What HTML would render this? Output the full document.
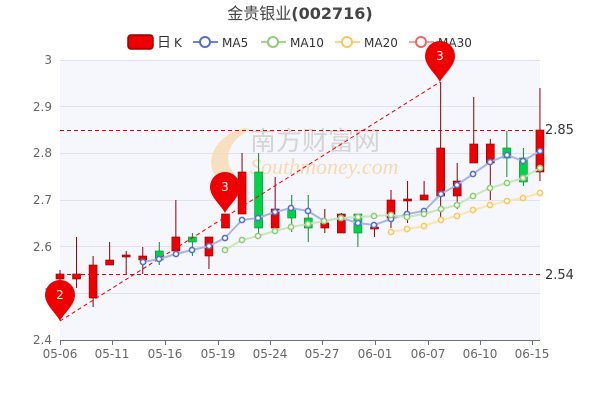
<!DOCTYPE html>
<html><head><meta charset="utf-8"><style>
body{margin:0;background:#fff;}
svg{display:block;font-family:"DejaVu Sans","Liberation Sans","Noto Sans CJK SC",sans-serif;}
</style></head><body>
<svg id="s" width="600" height="400" xmlns="http://www.w3.org/2000/svg">
<rect x="60" y="60" width="480" height="280" fill="#f5f7fd"/>
<g stroke="#dfe3ef" stroke-width="1">
<line x1="60" y1="60.5" x2="540" y2="60.5"/><line x1="60" y1="106.5" x2="540" y2="106.5"/>
<line x1="60" y1="153.5" x2="540" y2="153.5"/><line x1="60" y1="200.5" x2="540" y2="200.5"/>
<line x1="60" y1="246.5" x2="540" y2="246.5"/><line x1="60" y1="293.5" x2="540" y2="293.5"/>
</g>
<text x="300" y="19" font-size="16" fill="#444" text-anchor="middle"><tspan font-family="'Noto Sans CJK SC',sans-serif">金贵银业</tspan><tspan font-weight="bold">(002716)</tspan></text>
<g font-size="12" fill="#333">
<rect x="128" y="35" width="25" height="14" rx="3" fill="#e00" stroke="#900" stroke-width="1.5"/>
<text x="157" y="47" font-size="14" font-family="'Noto Sans CJK SC',sans-serif">日</text><text x="174" y="47">K</text>
<line x1="193" y1="42" x2="218" y2="42" stroke="#6a83d8" stroke-width="2"/><circle cx="205" cy="42" r="5" fill="#fff" stroke="#5470c6" stroke-width="2"/><text x="222" y="47">MA5</text>
<line x1="261" y1="42" x2="286" y2="42" stroke="#a5d68f" stroke-width="2"/><circle cx="273" cy="42" r="5" fill="#fff" stroke="#91cc75" stroke-width="2"/><text x="290" y="47">MA10</text>
<line x1="335" y1="42" x2="360" y2="42" stroke="#fcd58a" stroke-width="2"/><circle cx="347" cy="42" r="5" fill="#fff" stroke="#fac858" stroke-width="2"/><text x="364" y="47">MA20</text>
<line x1="409" y1="42" x2="434" y2="42" stroke="#f5a0a0" stroke-width="2"/><circle cx="421" cy="42" r="5" fill="#fff" stroke="#ee6666" stroke-width="2"/><text x="438" y="47">MA30</text>
</g>
<text x="250" y="150" font-size="26" fill="#ccc" opacity="0.8" font-family="'Noto Sans CJK SC',sans-serif">南方财富网</text>
<text x="250" y="174" font-size="22" fill="#f6d9b0" font-style="italic" font-family="'Liberation Serif',serif">Southmoney.com</text>
<path d="M245 128 C215 135 205 160 215 175 L235 175 C222 160 228 140 250 130Z" fill="#f6d9b0" opacity="0.8"/>
<g font-size="12" fill="#666" text-anchor="end">
<text x="52" y="64">3</text><text x="52" y="111">2.9</text><text x="52" y="157">2.8</text>
<text x="52" y="204">2.7</text><text x="52" y="251">2.6</text><text x="52" y="297">2</text><text x="52" y="344">2.4</text>
</g>
<line x1="60" y1="340.5" x2="540" y2="340.5" stroke="#6e7079"/>
<g id="xt" stroke="#6e7079"></g>
<g font-size="12" fill="#666" text-anchor="middle">
<text x="60" y="358">05-06</text><text x="112" y="358">05-11</text><text x="165" y="358">05-16</text>
<text x="218" y="358">05-19</text><text x="270" y="358">05-24</text><text x="322" y="358">05-27</text>
<text x="375" y="358">06-01</text><text x="428" y="358">06-07</text><text x="480" y="358">06-10</text><text x="532" y="358">06-15</text>
</g>
<g id="c"></g>
<g stroke="#e00" stroke-width="1" stroke-dasharray="4,3" fill="none">
<line x1="60" y1="130.5" x2="540" y2="130.5"/><line x1="60" y1="274.5" x2="540" y2="274.5"/>
<line x1="60" y1="321" x2="440" y2="82"/>
</g>
<g font-size="13" fill="#333"><text x="545" y="134">2.85</text><text x="545" y="279">2.54</text></g>
<g id="m"></g>
</svg>
<script>
var ns="http://www.w3.org/2000/svg",c=document.getElementById('c'),m=document.getElementById('m'),xt=document.getElementById('xt');
function el(p,t,a){var e=document.createElementNS(ns,t);for(var k in a)e.setAttribute(k,a[k]);p.appendChild(e);return e;}
[60,112,165,218,270,322,375,428,480,532].forEach(function(x){el(xt,'line',{x1:x+.5,y1:340,x2:x+.5,y2:345});});
var d=[['r',274,279,270,282],['r',274,279,237,288],['r',265,298,256,307],['r',260,265,242,265],['r',255,257,251,274],['r',256,260,247,274],['g',251,260,242,265],['r',237,251,200,251],['g',237,242,233,256],['r',237,256,237,269],['r',214,228,214,228],['r',172,214,153,214],['g',172,228,153,237],['r',209,228,177,228],['g',209,218,195,232],['g',218,228,195,242],['r',223,228,209,233],['r',214,233,213,233],['g',214,233,214,247],['r',227,229,227,237],['r',200,218,190,228],['r',199,201,181,223],['r',195,200,181,200],['r',148,196,82,219],['r',181,196,163,209],['r',144,163,97,163],['r',144,163,139,200],['g',148,158,131,177],['g',158,182,148,186],['r',130,172,88,181]];
d.forEach(function(v,i){var x=60+i*16.55,col=v[0]=='r'?'#e00':'#00d34a',sc=v[0]=='r'?'#8a0000':'#0a8a2a';
el(c,'line',{x1:x,y1:v[3],x2:x,y2:v[4],stroke:sc,'stroke-width':1});
el(c,'rect',{x:x-4,y:v[1],width:8,height:Math.max(1.5,v[2]-v[1]),fill:col,stroke:sc,'stroke-width':0.6});});
function ma(pts,col,lc){var s='';pts.forEach(function(p,i){s+=(i?'L':'M')+p[0]+' '+p[1];});
el(m,'path',{d:s,fill:'none',stroke:lc,'stroke-width':2,'stroke-linejoin':'round'});
pts.forEach(function(p){el(m,'circle',{cx:p[0],cy:p[1],r:2.6,fill:'#fff',stroke:col,'stroke-width':1.6});});}
ma([[143,262],[159,259],[176,254],[192,250],[209,246],[225,238],[242,220],[258,218],[275,212],[291,208],[308,211],[324,221],[341,218],[358,223],[374,225],[391,219],[407,214],[424,211],[441,194],[457,185],[473,174],[490,162],[507,155],[523,161],[540,151]],'#5470c6','#a8b6e6');
ma([[225,250],[242,240],[258,236],[275,231],[291,227],[308,224],[324,221],[341,218],[358,217],[374,216],[391,215],[407,217],[424,214],[441,209],[457,205],[473,196],[490,188],[507,183],[523,178],[540,168]],'#91cc75','#c8e6b9');
ma([[391,232],[407,229],[424,226],[441,220],[457,216],[473,210],[490,205],[507,201],[523,198],[540,193]],'#fac858','#fde4ac');
function pin(x,ty,t){var cy=ty-26,r=15;
el(m,'path',{d:'M'+x+' '+ty+' C'+(x-4)+' '+(ty-8)+' '+(x-r)+' '+(cy+10)+' '+(x-r)+' '+cy+' A'+r+' '+r+' 0 1 1 '+(x+r)+' '+cy+' C'+(x+r)+' '+(cy+10)+' '+(x+4)+' '+(ty-8)+' '+x+' '+ty+'Z',fill:'#e00'});
var tx=el(m,'text',{x:x,y:cy+4,'font-size':12,fill:'#fff','text-anchor':'middle'});tx.textContent=t;}
pin(60,321,'2');pin(225,213,'3');pin(440,82,'3');
</script>
</body></html>
